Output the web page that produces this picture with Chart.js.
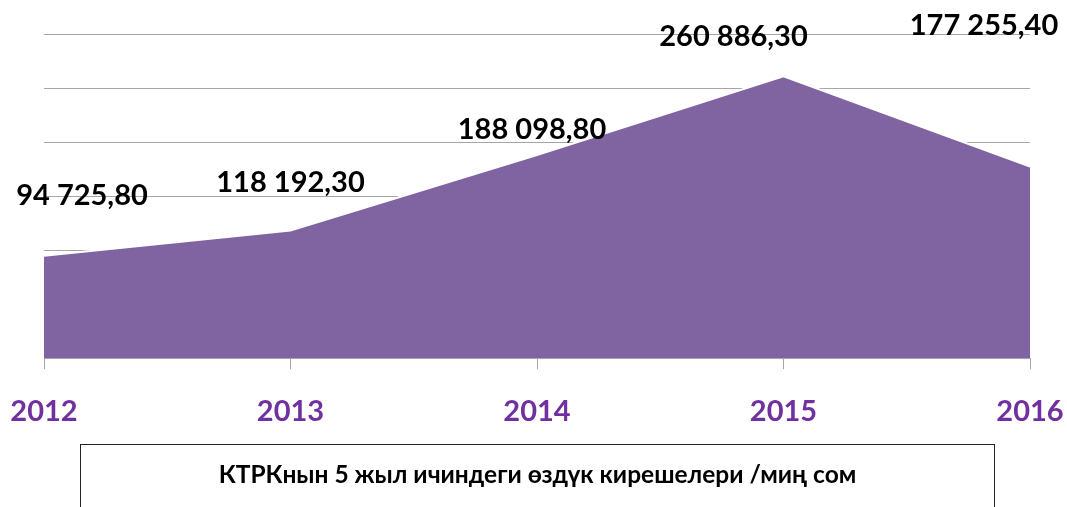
<!DOCTYPE html>
<html>
<head>
<meta charset="utf-8">
<script src="https://cdn.jsdelivr.net/npm/chart.js@4/dist/chart.umd.min.js"></script>
<style>
html, body { margin: 0; padding: 0; background: #ffffff; overflow: hidden; }
#wrap { position: relative; width: 1067px; height: 507px; }
#ChartCanvas { position: absolute; left: 0; top: 0; }
#legendBox {
    position: absolute; left: 80px; top: 444px; width: 915px; height: 80px;
    border: 1.5px solid #222222; box-sizing: border-box;
    font-family: Lato, "Noto Sans", sans-serif; font-weight: bold; font-size: 24.5px; line-height: 28px; color: #000000;
    text-align: center; padding-top: 15px;
}
</style>
</head>
<body>
<div id="wrap">
    <canvas id="ChartCanvas" width="1067" height="454"></canvas>
    <div id="legendBox">КТРКнын 5 жыл ичиндеги өздүк кирешелери /миң сом</div>
</div>
<script>
var years = ["2012", "2013", "2014", "2015", "2016"];
var income = [94725.8, 118192.3, 188098.8, 260886.3, 177255.4];
var yMax = 300000;
var yStep = 50000;

// where each value label sits relative to its point (as placed in the original)
var labelShiftX = [38, 0, -5, -50, -46];
var labelShiftY = [-60, -48, -25, -40, -141];

function formatValue(v) //94725.8 -> "94 725,80"
{
    var parts = v.toFixed(2).split(".");
    var whole = parts[0].replace(/\B(?=(\d{3})+(?!\d))/g, " ");
    return whole + "," + parts[1];
}

var valueLabels = {
    id: "valueLabels",
    afterDatasetsDraw: function(chart)
    {
        var ctx = chart.ctx;
        var meta = chart.getDatasetMeta(0);
        ctx.save();
        ctx.font = "bold 29px Lato, 'Noto Sans', sans-serif";
        ctx.fillStyle = "#000000";
        ctx.textAlign = "center";
        ctx.textBaseline = "middle";
        for(var i = 0; i < meta.data.length; i++)
        {
            var p = meta.data[i];
            ctx.fillText(formatValue(income[i]), p.x + labelShiftX[i], p.y + labelShiftY[i]);
        }
        ctx.restore();
    }
};

var climateChart = document.getElementById("ChartCanvas").getContext("2d");

var createdChart = new Chart(climateChart, {
    type: "line",
    data: {
        labels: years,
        datasets: [
            {
                data: income,
                label: "КТРК",
                backgroundColor: "#8064A2",
                borderColor: "#ffffff",
                borderWidth: 2,
                fill: "origin",
                tension: 0,
                pointRadius: 0
            }
        ]
    },
    options: {
        responsive: false,
        animation: false,
        layout: { padding: { left: 44, right: 37, top: 34, bottom: 0 } },
        plugins: {
            legend: { display: false },
            tooltip: { enabled: false }
        },
        scales: {
            x: {
                offset: false,
                afterFit: function(scale) { scale.paddingLeft = 0; scale.paddingRight = 0; },
                border: { display: true, color: "#A6A6A6", width: 1 },
                grid: { drawOnChartArea: false, drawTicks: true, tickLength: 11, color: "#A6A6A6" },
                ticks: {
                    color: "#7030A0",
                    padding: 25,
                    maxRotation: 0,
                    font: { family: "Lato, 'Noto Sans', sans-serif", weight: "bold", size: 29 }
                }
            },
            y: {
                min: 0,
                max: yMax,
                border: { display: false },
                grid: { color: "#A6A6A6", lineWidth: 1, drawTicks: false },
                ticks: { display: false, stepSize: yStep }
            }
        }
    },
    plugins: [valueLabels]
});
</script>
</body>
</html>
